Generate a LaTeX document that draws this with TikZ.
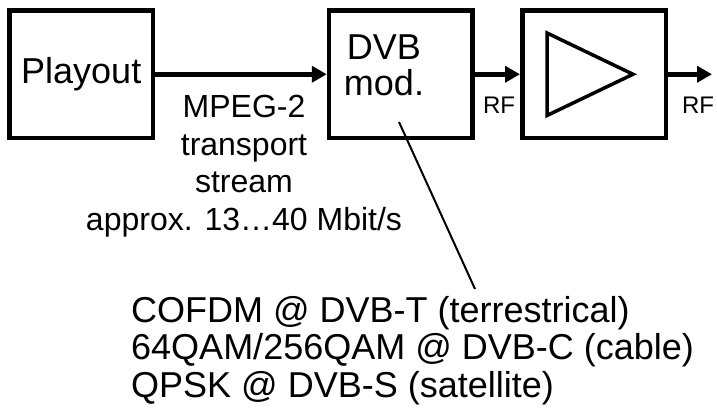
\documentclass[tikz,border=0pt]{standalone}
\usepackage{fontspec}
\setmainfont{Liberation Sans}
\usetikzlibrary{arrows.meta}

\begin{document}
\begin{tikzpicture}[x=1pt, y=-1pt,
  block/.style={draw, line width=4.5pt, minimum width=143.5pt, minimum height=127.5pt, inner sep=0pt},
  signal/.style={line width=4.5pt, -{Triangle[length=15pt, width=16pt]}},
  bigtext/.style={font=\fontsize{36}{36}\selectfont},
  midtext/.style={font=\fontsize{32}{37.5}\selectfont},
  rftext/.style={font=\fontsize{24}{28}\selectfont, inner sep=0pt, anchor=base}]
  \useasboundingbox (0,0) rectangle (717,418);
  \node[block, bigtext] (playout) at (81.25,74.25) {Playout};
  \node[block] (dvb) at (400.75,74.25) {};
  \node[block] (amp) at (594,74.25) {};
  \node[bigtext, align=center, anchor=north, inner sep=0pt] (dvbtext) at (384,35) {DVB\\mod.};
  % amplifier symbol
  \draw[line width=3.5pt, line join=miter] (547,33) -- (633,74.25) -- (547,115.5) -- cycle;
  \coordinate (rfout) at (712,74.25);
  \draw[signal] (playout) -- (dvb);
  \draw[signal] (dvb) -- (amp);
  \draw[signal] (amp) -- (rfout);
  \node[midtext, align=center, anchor=north, inner sep=0pt] (ts) at (244,95)
    {MPEG-2\\transport\\stream\\approx. 13…40 Mbit/s};
  \node[rftext] (rfa) at (499,113) {RF};
  \node[rftext] (rfb) at (698,113) {RF};
  % modulation schemes
  \node[font=\fontsize{36}{37.5}\selectfont, align=left, anchor=north west, inner sep=0pt] (modes) at (131,296)
    {COFDM @ DVB-T (terrestrical)\\64QAM/256QAM @ DVB-C (cable)\\QPSK @ DVB-S (satellite)};
  \coordinate (modpt) at (399,122);
  \coordinate (modtip) at (475,289);
  \draw[line width=2pt] (modpt) -- (modtip);
\end{tikzpicture}
\end{document}
